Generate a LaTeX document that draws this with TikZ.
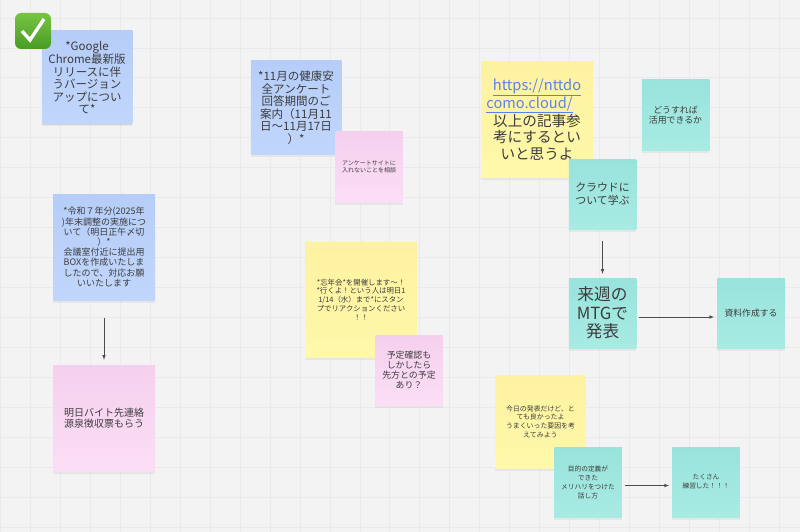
\documentclass[tikz,border=0pt]{standalone}
\usepackage{fontspec}
\setmainfont{Noto Sans CJK JP}
\usetikzlibrary{calc,shadows,positioning}
\definecolor{myBoard}{HTML}{F3F3F3}
\definecolor{myGrid}{HTML}{EAEAEA}
\definecolor{myInk}{HTML}{3C3C3C}
\definecolor{myUrl}{HTML}{5B82E8}
\newcommand{\myFont}[2]{\fontsize{#1}{#2}\selectfont}
\tikzset{
myNote/.style={
	rectangle,inner sep=0pt,text=myInk,align=center,
	drop shadow={shadow xshift=0pt,shadow yshift=-2.5pt,opacity=.05,fill=black},
	drop shadow={shadow xshift=0pt,shadow yshift=-1.2pt,opacity=.07,fill=black}
}
, myBlue/.style={myNote,top color={rgb,255:red,181;green,205;blue,248},bottom color={rgb,255:red,193;green,214;blue,252}}
, myPink/.style={myNote,top color={rgb,255:red,245;green,208;blue,238},bottom color={rgb,255:red,251;green,222;blue,245}}
, myYellow/.style={myNote,top color={rgb,255:red,253;green,242;blue,160},bottom color={rgb,255:red,255;green,248;blue,170}}
, myTeal/.style={myNote,top color={rgb,255:red,152;green,227;blue,220},bottom color={rgb,255:red,168;green,235;blue,227}}
% sizes
, mySmall/.style={minimum width=67.5pt,minimum height=70pt}
, myMedium/.style={minimum width=90.5pt,minimum height=93pt}
, myWide/.style={minimum width=102pt,minimum height=106pt}
, myLarge/.style={minimum width=112pt,minimum height=115pt}
% link
, myLink/.style={-latex,color=black!70,semithick}
, myCheck/.style={
	rectangle,rounded corners=6pt,inner sep=0pt,minimum size=36pt,
	top color={rgb,255:red,120;green,196;blue,66},bottom color={rgb,255:red,72;green,156;blue,36}
}
}
\begin{document}
\begin{tikzpicture}[x=1pt,y=-1pt]
	\useasboundingbox (0,0) rectangle (800,532);
	% board
	\fill[myBoard] (0,0) rectangle (800,532);
	\foreach \i in {0,...,26}
		\draw[myGrid,line width=.8pt] ({.5+29.95*\i},0) -- ({.5+29.95*\i},532);
	\foreach \i in {0,...,17}
		\draw[myGrid,line width=.8pt] (0,{18+29.95*\i}) -- (800,{18+29.95*\i});
	% left column
	\node[myBlue,myMedium,font=\myFont{11.5}{12.4}] (Chrome) at (87,77.5)
		{*Google\\Chrome最新版\\リリースに伴\\うバージョン\\アップについ\\て*};
	\node[myCheck] (Done) at (33,31) {};
	\draw[white,line width=3.4pt,line join=miter] ($(Done)+(-11,0)$) -- ($(Done)+(-3,9)$) -- ($(Done)+(11,-12)$);
	\node[myBlue,myWide,font=\myFont{9}{10.2}] (Tax) at (104,247)
		{*令和７年分(2025年\\)年末調整の実施につ\\いて（明日正午〆切\\）*\\会議室付近に提出用\\BOXを作成いたしま\\したので、対応お願\\いいたします};
	\node[myPink,myWide,font=\myFont{10}{11.5}] (Slip) at (104,418)
		{明日バイト先連絡\\源泉徴収票もらう};
	% middle column
	\node[myBlue,myMedium,font=\myFont{11.5}{12.5}] (Health) at (296,107.5)
		{*11月の健康安\\全アンケート\\回答期間のご\\案内（11月11\\日〜11月17日\\）*};
	\node[myPink,mySmall,font=\myFont{6}{7.2}] (Site) at (369,167)
		{アンケートサイトに\\入れないことを相談};
	\node[myYellow,myLarge,font=\myFont{7.4}{8.8}] (Party) at (361,299.5)
		{*忘年会*を開催します〜！\\*行くよ！という人は明日1\\1/14（水）まで*にスタン\\プでリアクションください\\！！};
	\node[myPink,mySmall,font=\myFont{8.9}{10}] (Plan) at (409,370)
		{予定確認も\\しかしたら\\先方との予定\\あり？};
	% right column
	\node[myYellow,myLarge,font=\myFont{14.6}{16.7}] (Url) at (537,119.5)
		{\textcolor{myUrl}{\underline{https://nttdo}}\\\textcolor{myUrl}{\underline{como.cloud/}}\kern15pt\\以上の記事参\\考にするとい\\いと思うよ};
	\node[myTeal,mySmall,font=\myFont{8.9}{10.5}] (How) at (675.5,115)
		{どうすれば\\活用できるか};
	\node[myTeal,mySmall,font=\myFont{10.9}{12.7}] (Cloud) at (602.5,194)
		{クラウドに\\ついて学ぶ};
	\node[myTeal,mySmall,font=\myFont{16.7}{18.5}] (Mtg) at (602.5,313)
		{来週の\\MTGで\\発表};
	\node[myTeal,mySmall,font=\myFont{8.8}{10.5}] (Doc) at (751,313)
		{資料作成する};
	\node[myYellow,myMedium,font=\myFont{6.9}{8.6}] (Talk) at (540.5,421.5)
		{今日の発表だけど、と\\ても良かったよ\\うまくいった要因を考\\えてみよう};
	\node[myTeal,mySmall,font=\myFont{6.7}{9}] (Goal) at (588,482)
		{目的の定義が\\できた\\メリハリをつけた\\話し方};
	\node[myTeal,mySmall,font=\myFont{6.7}{9}] (Practice) at (706,482)
		{たくさん\\練習した！！！};
	% links
	\draw[myLink,shorten <=18pt,shorten >=5pt] (Tax.south) -- (Slip.north);
	\draw[myLink,shorten <=12pt,shorten >=4pt] (Cloud.south) -- (Mtg.north);
	\draw[myLink,shorten <=3pt,shorten >=3pt] ([yshift=-4pt]Mtg.east) -- ([yshift=-4pt]Doc.west);
	\draw[myLink,shorten <=3pt,shorten >=3pt] ([yshift=-3.5pt]Goal.east) -- ([yshift=-3.5pt]Practice.west);
\end{tikzpicture}
\end{document}
